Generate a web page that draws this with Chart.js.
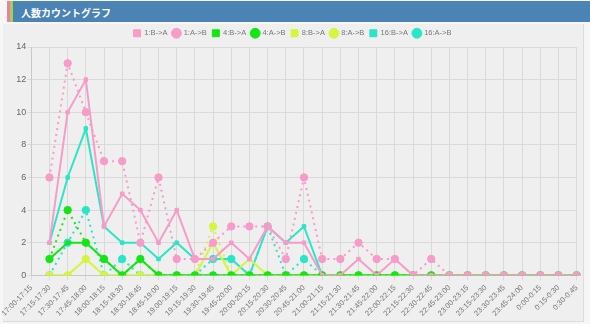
<!DOCTYPE html>
<html>
<head>
<meta charset="utf-8">
<script src="https://cdn.jsdelivr.net/npm/chart.js@4/dist/chart.umd.min.js"></script>
<style>
body{margin:0;background:#f6f6f6;width:590px;height:324px;overflow:hidden;}
#head{position:absolute;left:13px;top:1px;width:577px;height:21px;background:#4a83b4;}
#s1{position:absolute;left:7px;top:1px;width:3px;height:21px;background:#ef7ea0;}
#s2{position:absolute;left:10px;top:1px;width:3px;height:21px;background:#a4cf52;}
#head span{position:absolute;left:8px;top:4px;color:#fff;font:bold 10px "Noto Sans CJK JP",sans-serif;}
#box{position:absolute;left:3px;top:24px;width:580px;height:297px;background:#efefef;border-right:1px solid #dcdcdc;border-bottom:1px solid #dcdcdc;}
#wrap{position:absolute;left:0px;top:24px;width:586px;height:297px;}
</style>
</head>
<body>
<div id="s1"></div><div id="s2"></div>
<div id="head"><span>人数カウントグラフ</span></div>
<div id="box"></div>
<div id="wrap"><canvas id="myChart"></canvas></div>
<script>
// time slots
var labels = ["17:00-17:15","17:15-17:30","17:30-17:45","17:45-18:00","18:00-18:15","18:15-18:30",
    "18:30-18:45","18:45-19:00","19:00-19:15","19:15-19:30","19:30-19:45","19:45-20:00",
    "20:00-20:15","20:15-20:30","20:30-20:45","20:45-21:00","21:00-21:15","21:15-21:30",
    "21:30-21:45","21:45-22:00","22:00-22:15","22:15-22:30","22:30-22:45","22:45-23:00",
    "23:00-23:15","23:15-23:30","23:30-23:45","23:45-24:00","0:00-0:15","0:15-0:30","0:30-0:45"];

// counts per gate and direction
var g1BA = [null,2,10,12,3,5,4,2,4,1,1,2,1,3,2,2,0,0,1,0,1,0,0,0,0,0,0,0,0,0,0];
var g1AB = [null,6,13,10,7,7,2,6,1,1,2,3,3,3,1,6,1,1,2,1,1,0,1,0,0,0,0,0,0,0,0];
var g4BA = [null,1,2,2,1,0,1,0,0,0,0,0,0,0,0,0,0,0,0,0,0,0,0,0,0,0,0,0,0,0,0];
var g4AB = [null,1,4,2,1,0,1,0,0,0,0,0,0,0,0,0,0,0,0,0,0,0,0,0,0,0,0,0,0,0,0];
var g8BA = [null,0,0,1,0,0,0,0,0,0,2,0,1,0,0,0,0,0,0,0,0,0,0,0,0,0,0,0,0,0,0];
var g8AB = [null,0,0,1,0,0,0,0,0,0,3,0,0,0,0,0,0,0,0,0,0,0,0,0,0,0,0,0,0,0,0];
var g16BA = [null,2,6,9,3,2,2,1,2,1,1,1,0,3,2,3,0,0,0,0,0,0,0,0,0,0,0,0,0,0,0];
var g16AB = [null,0,2,4,0,1,0,0,0,0,1,1,0,3,0,1,0,0,0,0,0,0,0,0,0,0,0,0,0,0,0];

var pink = '#f79bc9';
var green = '#14e614';
var yellow = '#d5f53e';
var cyan = '#2ae6c6';

function lineBA(name, data, color) {
    return {
        label: name, data: data, borderColor: color, backgroundColor: color,
        borderWidth: 2, pointStyle: 'rect', pointRadius: 2.5, pointBorderWidth: 1,
        tension: 0, fill: false
    };
}
function lineAB(name, data, color) {
    return {
        label: name, data: data, borderColor: color, backgroundColor: color,
        borderWidth: 2, borderDash: [2, 4], pointStyle: 'circle', pointRadius: 3.7,
        pointBorderWidth: 1, tension: 0, fill: false
    };
}

var ctx = document.getElementById("myChart");
var lineGraph = new Chart(ctx, {
    type: 'line',
    data: {
        labels: labels,
        datasets: [
            lineBA('1:B->A', g1BA, pink),
            lineAB('1:A->B', g1AB, pink),
            lineBA('4:B->A', g4BA, green),
            lineAB('4:A->B', g4AB, green),
            lineBA('8:B->A', g8BA, yellow),
            lineAB('8:A->B', g8AB, yellow),
            lineBA('16:B->A', g16BA, cyan),
            lineAB('16:A->B', g16AB, cyan)
        ]
    },
    options: {
        responsive: true,
        maintainAspectRatio: false,
        animation: false,
        layout: { padding: { left: 0, right: 1, top: 0, bottom: 0 } },
        plugins: {
            legend: {
                labels: {
                    usePointStyle: true, boxWidth: 7, boxHeight: 7,
                    padding: 5.5, color: '#777',
                    font: { size: 7.5, family: 'Liberation Sans' }
                }
            },
            tooltip: { enabled: false }
        },
        scales: {
            x: {
                grid: { color: '#dadada', tickLength: 5 },
                border: { color: '#c8c8c8' },
                ticks: {
                    autoSkip: false, maxRotation: 45, minRotation: 45, padding: 3,
                    color: '#777', font: { size: 7.5, family: 'Liberation Sans' }
                }
            },
            y: {
                min: 0, max: 14,
                grid: { color: '#dadada', tickLength: 4 },
                border: { color: '#c8c8c8' },
                ticks: { stepSize: 2, padding: 1, color: '#666', font: { size: 9, family: 'Liberation Sans' } }
            }
        }
    }
});
</script>
</body>
</html>
